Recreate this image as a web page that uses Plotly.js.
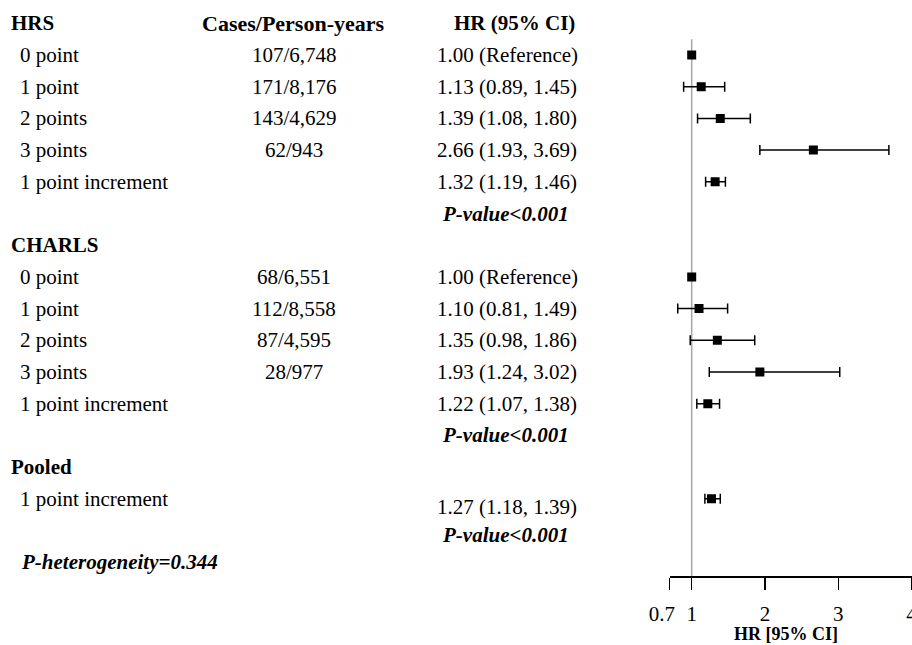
<!DOCTYPE html>
<html>
<head>
<meta charset="utf-8">
<script src="https://cdn.plot.ly/plotly-3.0.1.min.js"></script>
<style>html,body{margin:0;padding:0;background:#fff;}#chart{width:912px;height:645px;}</style>
</head>
<body>
<div id="chart"></div>
<script>
// ---- data ----
const sectionHeaders = ['HRS', 'CHARLS', 'Pooled'];
const sectionRows = [0, 7, 14];

const rowLabels = ['0 point', '1 point', '2 points', '3 points', '1 point increment',
                   '0 point', '1 point', '2 points', '3 points', '1 point increment',
                   '1 point increment'];
const labelRows = [1, 2, 3, 4, 5, 8, 9, 10, 11, 12, 15];

const casesText = ['107/6,748', '171/8,176', '143/4,629', '62/943',
                   '68/6,551', '112/8,558', '87/4,595', '28/977'];
const casesRows = [1, 2, 3, 4, 8, 9, 10, 11];

const hrText = ['1.00 (Reference)', '1.13 (0.89, 1.45)', '1.39 (1.08, 1.80)', '2.66 (1.93, 3.69)', '1.32 (1.19, 1.46)',
                '1.00 (Reference)', '1.10 (0.81, 1.49)', '1.35 (0.98, 1.86)', '1.93 (1.24, 3.02)', '1.22 (1.07, 1.38)',
                '1.27 (1.18, 1.39)'];
const hrTextRows = [1, 2, 3, 4, 5, 8, 9, 10, 11, 12, 15.25];

const hr    = [1.00, 1.13, 1.39, 2.66, 1.32, 1.00, 1.10, 1.35, 1.93, 1.22, 1.27];
const ciLow = [null, 0.89, 1.08, 1.93, 1.19, null, 0.81, 0.98, 1.24, 1.07, 1.18];
const ciHigh= [null, 1.45, 1.80, 3.69, 1.46, null, 1.49, 1.86, 3.02, 1.38, 1.39];
const markerRows = [1, 2, 3, 4, 5, 8, 9, 10, 11, 12, 15];

const pValueText = ['P-value<0.001', 'P-value<0.001', 'P-value<0.001'];
const pValueRows = [6, 13, 16.15];
const hetText = 'P-heterogeneity=0.344';
const hetRow = 17;

const columnHeaders = ['Cases/Person-years', 'HR (95% CI)'];
const tickVals = [0.7, 1, 2, 3, 4];
const tickText = ['0.7\u00a0\u00a0\u00a0', '1', '2', '3', '4'];
const axisTitle = 'HR [95% CI]';

// ---- layout helpers ----
const W = 912, H = 645;
const FONT = 'Liberation Serif, Times New Roman, serif';
const px = v => v / W;
const base = {size: 21, color: '#000', family: FONT};

const plus = hr.map((v, i) => ciHigh[i] == null ? NaN : ciHigh[i] - v);
const minus = hr.map((v, i) => ciLow[i] == null ? NaN : v - ciLow[i]);

const trace = {
  type: 'scatter', mode: 'markers',
  x: hr, y: markerRows,
  marker: {symbol: 'square', size: 9, color: '#000'},
  error_x: {type: 'data', symmetric: false, array: plus, arrayminus: minus,
            color: '#000', thickness: 1.5, width: 5},
  hoverinfo: 'skip', showlegend: false
};

const ann = [];
sectionHeaders.forEach((t, i) => ann.push({text: '<b>' + t + '</b>', x: px(9), xanchor: 'left',
  y: sectionRows[i], yref: 'y', xref: 'paper', yanchor: 'middle', showarrow: false, font: base}));
rowLabels.forEach((t, i) => ann.push({text: t, x: px(18), xanchor: 'left',
  y: labelRows[i], yref: 'y', xref: 'paper', yanchor: 'middle', showarrow: false, font: base}));
casesText.forEach((t, i) => ann.push({text: t, x: px(294), xanchor: 'center',
  y: casesRows[i], yref: 'y', xref: 'paper', yanchor: 'middle', showarrow: false, font: base}));
hrText.forEach((t, i) => ann.push({text: t, x: px(435), xanchor: 'left',
  y: hrTextRows[i], yref: 'y', xref: 'paper', yanchor: 'middle', showarrow: false, font: base}));
pValueText.forEach((t, i) => ann.push({text: '<b><i>' + t + '</i></b>', x: px(505), xanchor: 'center',
  y: pValueRows[i], yref: 'y', xref: 'paper', yanchor: 'middle', showarrow: false, font: base}));
ann.push({text: '<b><i>' + hetText + '</i></b>', x: px(19), xanchor: 'left',
  y: hetRow, yref: 'y', xref: 'paper', yanchor: 'middle', showarrow: false, font: base});
ann.push({text: '<b>' + columnHeaders[0] + '</b>', x: px(293), xanchor: 'center',
  y: sectionRows[0], yref: 'y', xref: 'paper', yanchor: 'middle', showarrow: false,
  font: {size: 22, color: '#000', family: FONT}});
ann.push({text: '<b>' + columnHeaders[1] + '</b>', x: px(577), xanchor: 'right',
  y: sectionRows[0], yref: 'y', xref: 'paper', yanchor: 'middle', showarrow: false, font: base});
ann.push({text: '<b>' + axisTitle + '</b>', x: px(786), xanchor: 'center',
  y: -(634 - 576) / 576, yref: 'paper', xref: 'paper', yanchor: 'middle', showarrow: false,
  font: {size: 18, color: '#000', family: FONT}});

const layout = {
  width: W, height: H,
  margin: {l: 0, r: 0, t: 0, b: 69, pad: 0},
  paper_bgcolor: '#fff', plot_bgcolor: '#fff',
  showlegend: false,
  xaxis: {
    domain: [669.7 / W, 911.6 / W],
    range: [0.7, 4], fixedrange: true,
    showgrid: false, zeroline: false,
    showline: true, linecolor: '#000', linewidth: 1.5,
    ticks: 'outside', ticklen: 12, tickwidth: 1.5, tickcolor: '#000',
    tickmode: 'array', tickvals: tickVals, ticktext: tickText,
    tickfont: base, tickangle: 0, ticklabelstandoff: 6, ticklabeloverflow: 'allow'
  },
  yaxis: {
    range: [17.435, -0.735], fixedrange: true, visible: false,
    showgrid: false, zeroline: false
  },
  shapes: [{type: 'line', xref: 'x', yref: 'y', x0: 1, x1: 1, y0: 0.5, y1: 17.435,
            line: {color: '#a6a6a6', width: 1.5}, layer: 'below'}],
  annotations: ann
};

Plotly.newPlot('chart', [trace], layout, {displayModeBar: false, staticPlot: true});
</script>
</body>
</html>
